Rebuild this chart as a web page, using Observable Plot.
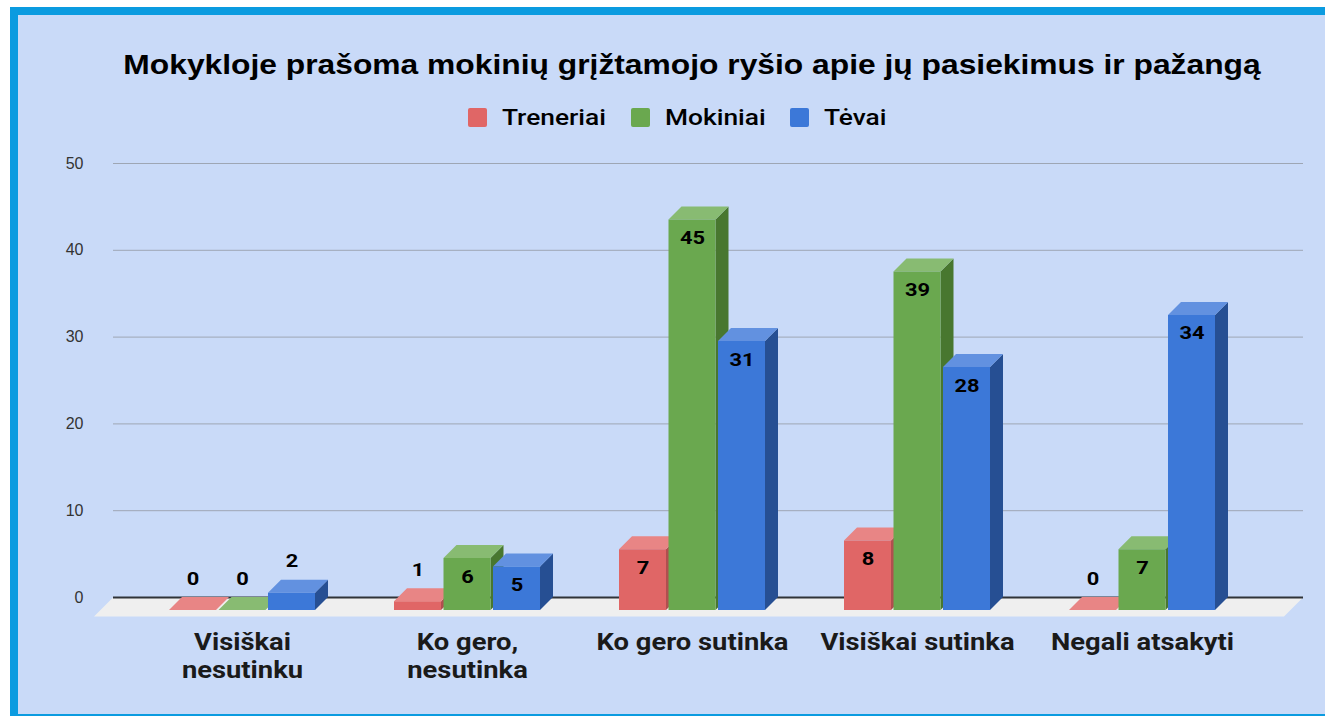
<!DOCTYPE html>
<html>
<head>
<meta charset="utf-8">
<script src="https://cdn.jsdelivr.net/npm/d3@7"></script>
<script src="https://cdn.jsdelivr.net/npm/@observablehq/plot@0.6"></script>
<style>
  body { margin: 0; background: #ffffff; }
  #frame { position: absolute; left: 10px; top: 7px; width: 1307px; height: 699px;
    background: #c9daf8; border-top: 8px solid #0b9be0; border-left: 8px solid #0b9be0; border-bottom: 2px solid #0b9be0; overflow: hidden; }
  #title { position: absolute; left: 674px; top: 50px; transform: translate(-50%, -50%) scaleX(1.135); white-space: nowrap;
    font-family: "Liberation Sans", Arial, sans-serif; font-weight: bold; font-size: 28px; color: #000; }
  .sw { position: absolute; top: 93px; width: 19px; height: 19px; border-radius: 2px; }
  .lt { position: absolute; top: 102px; transform: translateY(-50%) scaleX(1.17); transform-origin: left center; white-space: nowrap;
    font-family: Roboto, "Liberation Sans", sans-serif; font-weight: 500; font-size: 22.5px; color: #000; }
  #chart { position: absolute; left: 0; top: 125px; }
</style>
</head>
<body>
<div id="frame">
  <div id="title">Mokykloje prašoma mokinių grįžtamojo ryšio apie jų pasiekimus ir pažangą</div>
  <div id="legend"></div>
  <div id="chart"></div>
</div>
<script>
const categories = ["Visiškai\nnesutinku", "Ko gero,\nnesutinka", "Ko gero sutinka", "Visiškai sutinka", "Negali atsakyti"];
const series = ["Treneriai", "Mokiniai", "Tėvai"];
const treneriai = [0, 1, 7, 8, 0];
const mokiniai = [0, 6, 45, 39, 7];
const tevai = [2, 5, 31, 28, 34];
const yTicks = [0, 10, 20, 30, 40, 50];

const frontColors = ["#e06666", "#6aa84f", "#3c78d8"];
const topColors = ["#e88585", "#88bb72", "#6291e0"];
const sideColors = ["#b04f4f", "#48772f", "#264f93"];

const values = [treneriai, mokiniai, tevai];
const data = [];
series.forEach((s, si) => categories.forEach((c, ci) => data.push({cat: c, series: s, si, value: values[si][ci]})));

// legend
const legend = document.getElementById("legend");
const legendX = [450, 613, 772];
series.forEach((s, i) => {
  const sw = document.createElement("span");
  sw.className = "sw";
  sw.style.left = legendX[i] + "px";
  sw.style.background = frontColors[i];
  const t = document.createElement("span");
  t.className = "lt";
  t.style.left = (legendX[i] + 34) + "px";
  t.textContent = s;
  legend.appendChild(sw);
  legend.appendChild(t);
});

const D = 13;          // 3D depth
const STEP = 49.5;     // bar width + gap
const W = 1307, H = 574;

function stretch(sx) {
  return function(index, scales, vals, dims, ctx, next) {
    const g = next(index, scales, vals, dims, ctx);
    g.querySelectorAll("text").forEach(t => {
      let x = parseFloat(t.getAttribute("x"));
      if (!isFinite(x)) x = 0;
      const T = t.getAttribute("transform") || "";
      t.setAttribute("transform", `${T} translate(${x},0) scale(${sx},1) translate(${-x},0)`);
    });
    return g;
  };
}

function face(kind, si) {
  const rows = data.filter(d => d.si === si);
  const fill = kind === "front" ? frontColors[si] : kind === "top" ? topColors[si] : sideColors[si];
  return Plot.barY(rows, {
    x: "cat", y: "value",
    insetLeft: si * STEP, insetRight: (2 - si) * STEP,
    fill,
    render(index, scales, vals, dims, ctx, next) {
      const g = next(index, scales, vals, dims, ctx);
      for (const r of Array.from(g.querySelectorAll("rect"))) {
        const x = +r.getAttribute("x"), y = +r.getAttribute("y");
        const w = +r.getAttribute("width"), h = +(r.getAttribute("height") || 0);
        const fx = x - D, fy = y + D, fb = y + h + D;
        let pts;
        if (kind === "front") pts = [[fx, fy], [fx + w, fy], [fx + w, fb], [fx, fb]];
        else if (kind === "top") pts = [[fx, fy], [fx + w, fy], [x + w, y], [x, y]];
        else pts = [[fx + w, fy], [x + w, y], [x + w, y + h], [fx + w, fb]];
        const p = document.createElementNS("http://www.w3.org/2000/svg", "path");
        p.setAttribute("d", "M" + pts.map(q => q.join(",")).join("L") + "Z");
        p.setAttribute("fill", fill);
        r.replaceWith(p);
      }
      return g;
    }
  });
}

const floor = Plot.ruleY([0], {
  stroke: "#2f3338", strokeWidth: 2,
  render(index, scales, vals, dims, ctx, next) {
    const g = next(index, scales, vals, dims, ctx);
    const y0 = scales.y(0);
    const xl = dims.marginLeft, xr = dims.width - dims.marginRight, F = 19;
    const p = document.createElementNS("http://www.w3.org/2000/svg", "path");
    p.setAttribute("d", `M${xl},${y0}L${xr},${y0}L${xr - F},${y0 + F}L${xl - F},${y0 + F}Z`);
    p.setAttribute("fill", "#efefef");
    p.setAttribute("stroke", "none");
    g.insertBefore(p, g.firstChild);
    return g;
  }
});

const marks = [
  Plot.gridY(yTicks.filter(t => t > 0), {stroke: "#9ea6b4", strokeOpacity: 1, strokeWidth: 1}),
  Plot.axisY(yTicks, {tickSize: 0, tickPadding: 30, fontSize: 16, fill: "#333", label: null, fontFamily: "Liberation Sans, Arial, sans-serif"}),
  Plot.axisX({tickSize: 0, tickPadding: 33, fontSize: 23, fontWeight: "bold", fill: "#1a1a1a", lineHeight: 1.2, label: null, dx: -D,
    fontFamily: "Roboto, sans-serif", render: stretch(1.19)}),
  floor
];
for (let si = 0; si < 3; si++) {
  marks.push(face("side", si), face("top", si), face("front", si));
}
for (let si = 0; si < 3; si++) {
  const rows = data.filter(d => d.si === si);
  const dx = (si - 1) * STEP - D;
  const common = {x: "cat", y: "value", text: d => String(d.value), dx, fontSize: 19, fontWeight: "bold", fill: "#000",
    fontFamily: "Roboto, sans-serif", render: stretch(1.15)};
  marks.push(Plot.text(rows.filter(d => d.value >= 4), {...common, dy: D + 18}));
  marks.push(Plot.text(rows.filter(d => d.value < 4), {...common, dy: D - 32}));
}

const chart = Plot.plot({
  width: W, height: H,
  marginLeft: 95, marginRight: 22, marginTop: 23, marginBottom: 117,
  style: {background: "transparent", overflow: "visible"},
  x: {type: "band", domain: categories, range: [92, 1282], paddingInner: 0.3526, paddingOuter: 0.3148, align: 0.5},
  y: {domain: [0, 50]},
  marks
});
document.getElementById("chart").appendChild(chart);
</script>
</body>
</html>
